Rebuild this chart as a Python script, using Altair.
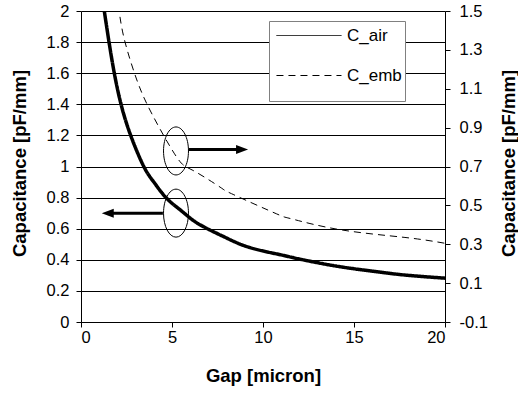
import altair as alt
import pandas as pd

# ---- data ----
gap_air = [1.28, 1.54, 1.83, 2.2, 2.73, 3.45, 4.0, 4.67, 5.44, 6.0, 6.7, 8.0, 9.3, 10.9, 12.0, 14.0, 16.0, 17.8, 20.0]
cap_air = [2.0, 1.8, 1.6, 1.4, 1.2, 1.0, 0.9, 0.8, 0.722, 0.668, 0.615, 0.54, 0.478, 0.434, 0.405, 0.36, 0.327, 0.302, 0.282]

gap_emb = [2.14, 2.42, 3.05, 3.9, 5.26, 6.15, 7.64, 8.09, 9.45, 10.93, 11.6, 14.23, 17.8, 20.0]
cap_emb = [1.47, 1.34, 1.15, 0.97, 0.748, 0.68, 0.594, 0.568, 0.51, 0.449, 0.43, 0.375, 0.335, 0.305]

series = ["C_air", "C_emb"]

x_ticks = [0, 5, 10, 15, 20]
left_ticks = [0, 0.2, 0.4, 0.6, 0.8, 1.0, 1.2, 1.4, 1.6, 1.8, 2.0]
right_ticks = [-0.1, 0.1, 0.3, 0.5, 0.7, 0.9, 1.1, 1.3, 1.5]

# annotation anchors (ellipses with arrows)
ell_gap = [5.22, 5.22]
ell_cap = [1.10, 0.70]
arrow_gap = [5.9, 4.5]
arrow_gap2 = [8.6, 1.7]
arrow_cap = [1.11, 0.70]
head_right_gap = [8.85]
head_right_cap = [1.11]
head_left_gap = [1.47]
head_left_cap = [0.70]

FONT = "Liberation Sans"

air = pd.DataFrame({"gap": gap_air, "cap": cap_air, "series": series[0]})
emb = pd.DataFrame({"gap": gap_emb, "cap": cap_emb, "series": series[1]})
ell = pd.DataFrame({"gap": ell_gap, "cap": ell_cap})
arr = pd.DataFrame({"gap": arrow_gap, "gap2": arrow_gap2, "cap": arrow_cap})
hr = pd.DataFrame({"gap": head_right_gap, "cap": head_right_cap})
hl = pd.DataFrame({"gap": head_left_gap, "cap": head_left_cap})

legend = alt.Legend(
    orient="none", legendX=188, legendY=10,
    title=" ", titleOrient="bottom", titleFontSize=6, titlePadding=8,
    padding=3, rowPadding=20,
    symbolType="M-0.64,0 L5.27,0", symbolSize=484, symbolStrokeWidth=1,
    symbolStrokeColor="black", symbolFillColor="transparent",
    labelFontSize=17, labelFont=FONT, labelColor="black", labelOffset=52,
    fillColor="white", strokeColor="#808080",
)
dash = alt.StrokeDash("series:N",
                      scale=alt.Scale(domain=series, range=[[1, 0], [7, 5]]),
                      legend=legend)

x_enc = alt.X("gap:Q", scale=alt.Scale(domain=[0, 20], nice=False, zero=False),
              axis=alt.Axis(values=x_ticks, title="Gap [micron]", grid=False,
                            titleX=182, titleY=53, titleBaseline="middle",
                            labelPadding=2, labelOverlap=False))

left_y = alt.Y("cap:Q", scale=alt.Scale(domain=[0, 2], nice=False, zero=False),
               axis=alt.Axis(values=left_ticks, title="Capacitance [pF/mm]",
                             format="~g", grid=True, gridColor="black",
                             gridWidth=1, labelPadding=7, labelOverlap=False,
                             titleX=-61.5, titleY=152, titleBaseline="middle"))

air_line = alt.Chart(air).mark_line(color="black", strokeWidth=3.5,
                                    interpolate="natural", clip=True).encode(
    x=x_enc, y=left_y, strokeDash=dash)

ellipses = alt.Chart(ell).mark_point(
    shape="M0,-1 A0.52,1 0 1,1 0,1 A0.52,1 0 1,1 0,-1 Z",
    size=2304, filled=False, color="black", strokeWidth=1, opacity=1).encode(
    x=x_enc, y=left_y)

shafts = alt.Chart(arr).mark_rule(color="black", strokeWidth=3).encode(
    x=x_enc, x2="gap2:Q", y=left_y)

head_r = alt.Chart(hr).mark_point(
    shape="M-1,-0.75 L1,0 L-1,0.75 Z", size=144, filled=True,
    color="black", opacity=1).encode(x=x_enc, y=left_y)

head_l = alt.Chart(hl).mark_point(
    shape="M1,-0.75 L-1,0 L1,0.75 Z", size=144, filled=True,
    color="black", opacity=1).encode(x=x_enc, y=left_y)

left_group = alt.layer(air_line, ellipses, shafts, head_r, head_l)

right_y = alt.Y("cap:Q", scale=alt.Scale(domain=[-0.1, 1.5], nice=False, zero=False),
                axis=alt.Axis(orient="right", values=right_ticks,
                              title="Capacitance [pF/mm]", grid=False,
                              labelOverlap=False,
                              labelExpr="datum.value < 0 ? '-' + format(-datum.value, '.1f') : format(datum.value, '.1f')",
                              labelPadding=9, titleAngle=270,
                              titleX=63, titleY=152, titleBaseline="middle"))

emb_line = alt.Chart(emb).mark_line(color="black", strokeWidth=1,
                                    interpolate="natural", clip=True).encode(
    x=x_enc, y=right_y, strokeDash=dash)

chart = alt.layer(left_group, emb_line).resolve_scale(y="independent").properties(
    width=364, height=311,
    autosize="none",
    padding={"left": 81, "top": 11, "right": 73, "bottom": 72},
    background="white",
).configure_view(strokeWidth=0).configure_axis(
    labelFont=FONT, labelFontSize=16.5, labelColor="black",
    titleFont=FONT, titleFontSize=18.5, titleFontWeight="bold", titleColor="black",
    domainColor="black", domainWidth=1, tickColor="black", tickSize=5, tickWidth=1,
)

chart.save("out.html", embed_options={"renderer": "svg", "actions": False})
